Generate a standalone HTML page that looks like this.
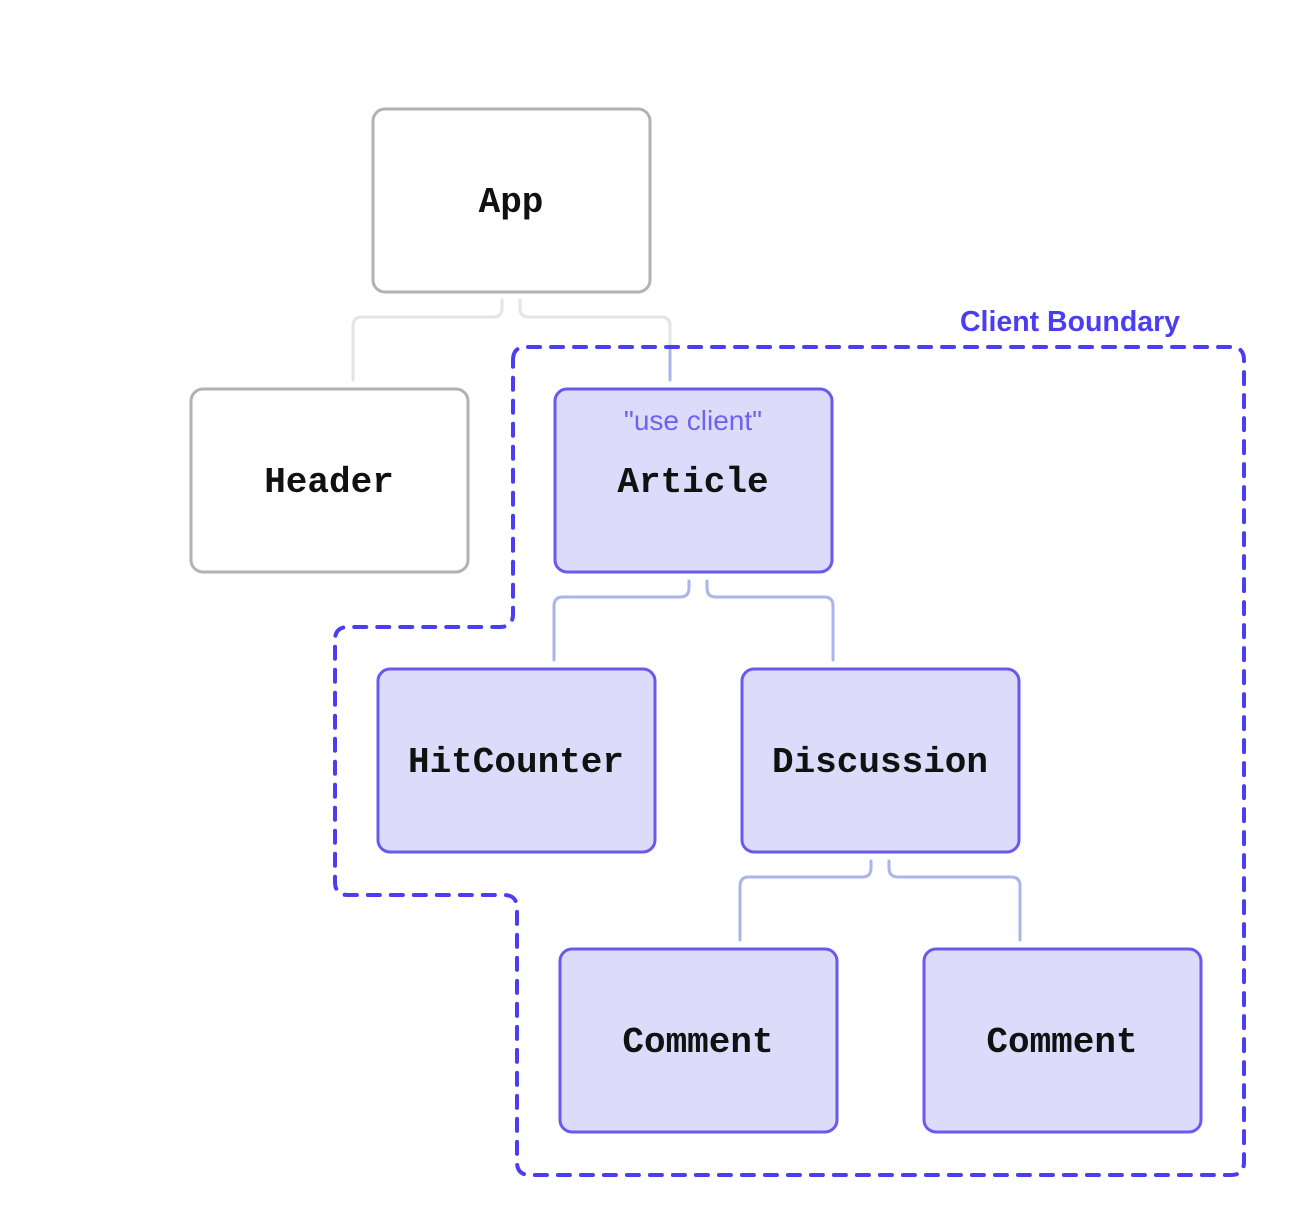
<!DOCTYPE html>
<html><head><style>
body{margin:0;background:#fff;width:1296px;height:1224px;overflow:hidden}
svg text{font-family:"Liberation Mono",monospace;font-weight:bold;font-size:36px;fill:#111}
</style></head><body>
<svg width="1296" height="1224" viewBox="0 0 1296 1224">
<g fill="none" stroke-width="3" stroke-linecap="round">
<path d="M502 300 V308 Q502 317 493 317 H362 Q353 317 353 326 V380" stroke="#e3e3ea"/>
<path d="M520 300 V308 Q520 317 529 317 H661 Q670 317 670 326 V346" stroke="#e3e3ea"/>
<path d="M670 350 V380" stroke="#aab6ea"/>
<path d="M689 581 V588 Q689 597 680 597 H563 Q554 597 554 606 V660" stroke="#aab6ea"/>
<path d="M707 581 V588 Q707 597 716 597 H824 Q833 597 833 606 V660" stroke="#aab6ea"/>
<path d="M871 861 V868 Q871 877 862 877 H749 Q740 877 740 886 V940" stroke="#aab6ea"/>
<path d="M889 861 V868 Q889 877 898 877 H1011 Q1020 877 1020 886 V940" stroke="#aab6ea"/>
</g>
<path d="M513 360 Q513 347 526 347 H1231 Q1244 347 1244 360 V1162 Q1244 1175 1231 1175 H530 Q517 1175 517 1162 V908 Q517 895 504 895 H348 Q335 895 335 882 V640 Q335 627 348 627 H500 Q513 627 513 614 Z" fill="none" stroke="#4a3df2" stroke-width="4" stroke-dasharray="12 11" stroke-linecap="round"/>
<text x="1070" y="331" text-anchor="middle" style="font-family:'Liberation Sans',sans-serif;font-size:28.5px;fill:#4a3df2;font-weight:bold">Client Boundary</text>
<g stroke-width="3">
<rect x="373" y="109" width="277" height="183" rx="12" fill="#fff" stroke="#b1b1b8"/>
<rect x="191" y="389" width="277" height="183" rx="12" fill="#fff" stroke="#b1b1b8"/>
<rect x="555" y="389" width="277" height="183" rx="12" fill="#dcdcfa" stroke="#6a58ef"/>
<rect x="378" y="669" width="277" height="183" rx="12" fill="#dcdcfa" stroke="#6a58ef"/>
<rect x="742" y="669" width="277" height="183" rx="12" fill="#dcdcfa" stroke="#6a58ef"/>
<rect x="560" y="949" width="277" height="183" rx="12" fill="#dcdcfa" stroke="#6a58ef"/>
<rect x="924" y="949" width="277" height="183" rx="12" fill="#dcdcfa" stroke="#6a58ef"/>
</g>
<text x="511" y="212" text-anchor="middle">App</text>
<text x="329" y="492" text-anchor="middle">Header</text>
<text x="693" y="430" text-anchor="middle" style="font-family:'Liberation Sans',sans-serif;font-weight:normal;font-size:28px;fill:#6c63ee">"use client"</text>
<text x="693" y="492" text-anchor="middle">Article</text>
<text x="516" y="772" text-anchor="middle">HitCounter</text>
<text x="880" y="772" text-anchor="middle">Discussion</text>
<text x="698" y="1052" text-anchor="middle">Comment</text>
<text x="1062" y="1052" text-anchor="middle">Comment</text>
</svg>
</body></html>
